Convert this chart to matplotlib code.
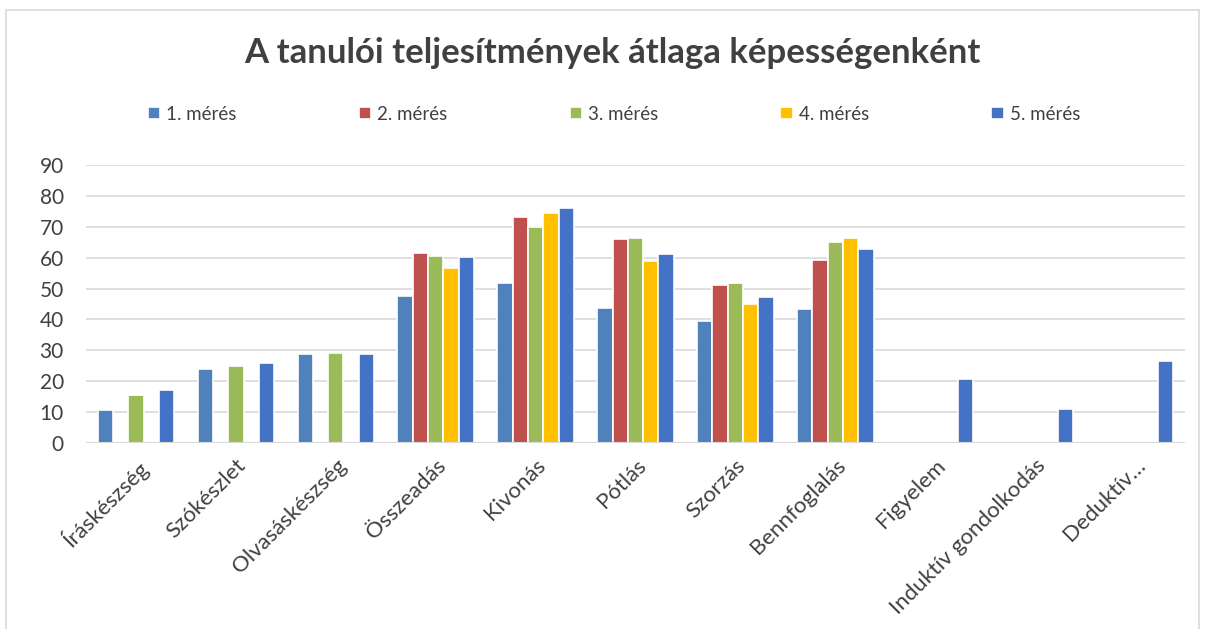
import matplotlib.pyplot as plt
import numpy as np
from matplotlib.patches import Rectangle

kategoriak = ["Íráskészség", "Szókészlet", "Olvasáskészség", "Összeadás", "Kivonás",
              "Pótlás", "Szorzás", "Bennfoglalás", "Figyelem",
              "Induktív gondolkodás", "Deduktív…"]

meres_1 = [10.6, 24.0, 28.8, 47.7, 51.8, 43.6, 39.4, 43.3, np.nan, np.nan, np.nan]
meres_2 = [np.nan, np.nan, np.nan, 61.7, 73.2, 66.0, 51.3, 59.2, np.nan, np.nan, np.nan]
meres_3 = [15.4, 24.8, 29.2, 60.6, 70.0, 66.5, 51.8, 65.0, np.nan, np.nan, np.nan]
meres_4 = [np.nan, np.nan, np.nan, 56.6, 74.6, 58.8, 45.0, 66.5, np.nan, np.nan, np.nan]
meres_5 = [17.2, 25.9, 28.7, 60.1, 76.3, 61.1, 47.3, 63.0, 20.8, 10.8, 26.6]

sorozatok = [meres_1, meres_2, meres_3, meres_4, meres_5]
nevek = ["1. mérés", "2. mérés", "3. mérés", "4. mérés", "5. mérés"]
szinek = ["#4F81BD", "#C0504D", "#9BBB59", "#FFC000", "#4472C4"]

plt.rcParams['font.family'] = ['Lato', 'DejaVu Sans']

fig = plt.figure(figsize=(12.06, 6.29), dpi=100)
ax = fig.add_axes([86/1206, 186.3/629, 1099/1206, 277.4/629])

# keret a diagram körül (alul le van vágva)
fig.patches.append(Rectangle((6/1206, -0.05), 1193/1206, 1.05 - 10/629,
                             transform=fig.transFigure, fill=False,
                             edgecolor="#D9D9D9", linewidth=1.2))

x = np.arange(len(kategoriak))
slot = 0.153
for i, (vals, nev, szin) in enumerate(zip(sorozatok, nevek, szinek)):
    ax.bar(x + (i - 2) * slot, vals, width=slot, color=szin, edgecolor="white",
           linewidth=1.2, label=nev, zorder=3)

ax.set_xlim(-0.5, len(kategoriak) - 0.5)
ax.set_ylim(0, 90)
ax.set_yticks(range(0, 91, 10))
ax.yaxis.grid(True, color="#D9D9D9", linewidth=1.2, zorder=0)
for s in ax.spines.values():
    s.set_visible(False)
ax.axhline(0, color="#D9D9D9", linewidth=1.5, zorder=4)
ax.tick_params(axis="x", length=0, labelsize=16, colors="#404040", pad=9)
ax.tick_params(axis="y", length=0, labelsize=15, colors="#404040", pad=16)
ax.set_xticks(x)
ax.set_xticklabels(kategoriak, rotation=45, ha="right", rotation_mode="anchor")

fig.text(0.508, 1 - 53/629, "A tanulói teljesítmények átlaga képességenként",
         ha="center", va="center", fontsize=25, fontweight="bold", color="#404040")

fig.legend(loc="lower left", bbox_to_anchor=(140/1206, 1 - 130/629, 948/1206, 20/629),
           mode="expand", ncol=5, frameon=False, fontsize=13.5, labelcolor="#404040",
           handlelength=0.65, handleheight=0.65, handletextpad=0.35, borderaxespad=0)

fig.savefig("out.png", dpi=100)
